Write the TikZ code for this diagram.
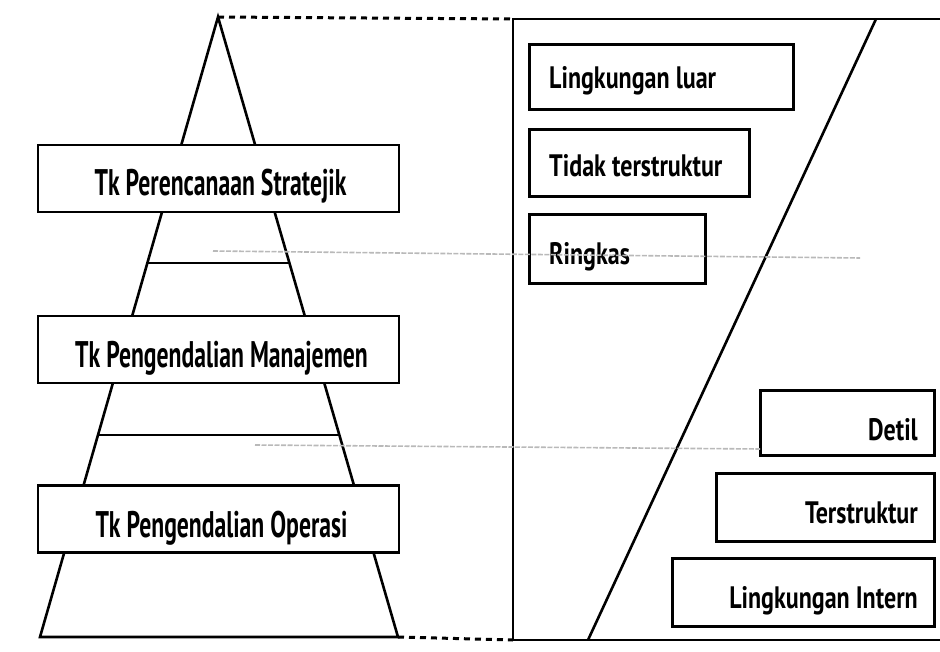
\documentclass[tikz,border=0pt]{standalone}
\usepackage{fontspec}
\setmainfont{PT Sans}
\newfontfamily\lvlfont[FakeStretch=0.64]{PT Sans Bold}
\newfontfamily\infofont[FakeStretch=0.775]{PT Sans Bold}
\usetikzlibrary{calc}
\begin{document}
\begin{tikzpicture}[x=1pt,y=-1pt,
  ln/.style={line width=2.6pt, line join=miter},
  dots/.style={line width=3pt, dash pattern=on 6pt off 5pt},
  faint/.style={line width=1.6pt, gray!55, dash pattern=on 5pt off 1.5pt},
  lvlbox/.style={draw, line width=2.6pt, fill=white, inner sep=0pt,
    minimum width=361pt, minimum height=67pt},
  infobox/.style={draw, line width=2.6pt, fill=white, inner sep=0pt},
  lvltext/.style={inner sep=0pt, anchor=base, font=\lvlfont\fontsize{37}{40}\selectfont},
  infotext/.style={inner sep=0pt, font=\infofont\fontsize{31}{34}\selectfont}]
\useasboundingbox (0,0) rectangle (940,652);
\clip (0,0) rectangle (940,652);

% pyramid of management levels
\coordinate (apex) at (218,17);
\coordinate (bl) at (40,637);
\coordinate (br) at (398,637);
\draw[ln] (bl) -- (apex) -- (br) -- cycle;
\draw[ln] ($(apex)!0.397!(bl)$) -- ($(apex)!0.397!(br)$);
\draw[ln] ($(apex)!0.674!(bl)$) -- ($(apex)!0.674!(br)$);

\node[lvlbox] (strat) at (218.5,178.5) {};
\node[lvlbox] (mgmt) at (218.5,349.5) {};
\node[lvlbox] (oper) at (218.5,519) {};
\node[lvltext] (stratT) at ($(strat.center)+(2,17.5)$) {Tk Perencanaan Stratejik};
\node[lvltext] (mgmtT) at ($(mgmt.center)+(3,17.5)$) {Tk Pengendalian Manajemen};
\node[lvltext] (operT) at ($(oper.center)+(3,18)$) {Tk Pengendalian Operasi};

% information characteristics frame
\coordinate (ftl) at (513,19);
\coordinate (fbl) at (513,640);
\coordinate (ftr) at (960,19);
\coordinate (fbr) at (960,640);
\draw[ln] (ftr) -- (ftl) -- (fbl) -- (fbr);
\coordinate (dtop) at (876,19);
\coordinate (dbot) at (588,640);
\draw[ln] (dtop) -- (dbot);

\draw[dots] (apex) -- (ftl);
\draw[dots] (br) -- (fbl);

% upper characteristics, text on the left
\node[infobox, minimum width=264pt, minimum height=65pt, anchor=north west] (outB) at (528,43) {};
\node[infobox, minimum width=220pt, minimum height=67pt, anchor=north west] (unsB) at (528,128) {};
\node[infobox, minimum width=176pt, minimum height=69pt, anchor=north west] (sumB) at (528,213) {};
\node[infotext, anchor=base west] (outT) at ($(outB.west)+(21,12)$) {Lingkungan luar};
\node[infotext, anchor=base west] (unsT) at ($(unsB.west)+(21,13.5)$) {Tidak terstruktur};
\node[infotext, anchor=base west] (sumT) at ($(sumB.west)+(21,15.5)$) {Ringkas};

% lower characteristics, text on the right
\node[infobox, minimum width=174pt, minimum height=65pt, anchor=north east] (detB) at (936,389) {};
\node[infobox, minimum width=218pt, minimum height=68pt, anchor=north east] (strB) at (936,472) {};
\node[infobox, minimum width=262pt, minimum height=68pt, anchor=north east] (intB) at (936,557) {};
\node[infotext, anchor=base east] (detT) at ($(detB.east)+(-18,17.5)$) {Detil};
\node[infotext, anchor=base east] (strT) at ($(strB.east)+(-18,16)$) {Terstruktur};
\node[infotext, anchor=base east] (intT) at ($(intB.east)+(-18,16)$) {Lingkungan Intern};

% faint level guides across the picture
\coordinate (g1a) at (213,251);
\coordinate (g1b) at (860,258);
\coordinate (g2a) at (255,445);
\coordinate (g2b) at (760,449);
\draw[faint] (g1a) -- (g1b);
\draw[faint] (g2a) -- (g2b);
\end{tikzpicture}
\end{document}
